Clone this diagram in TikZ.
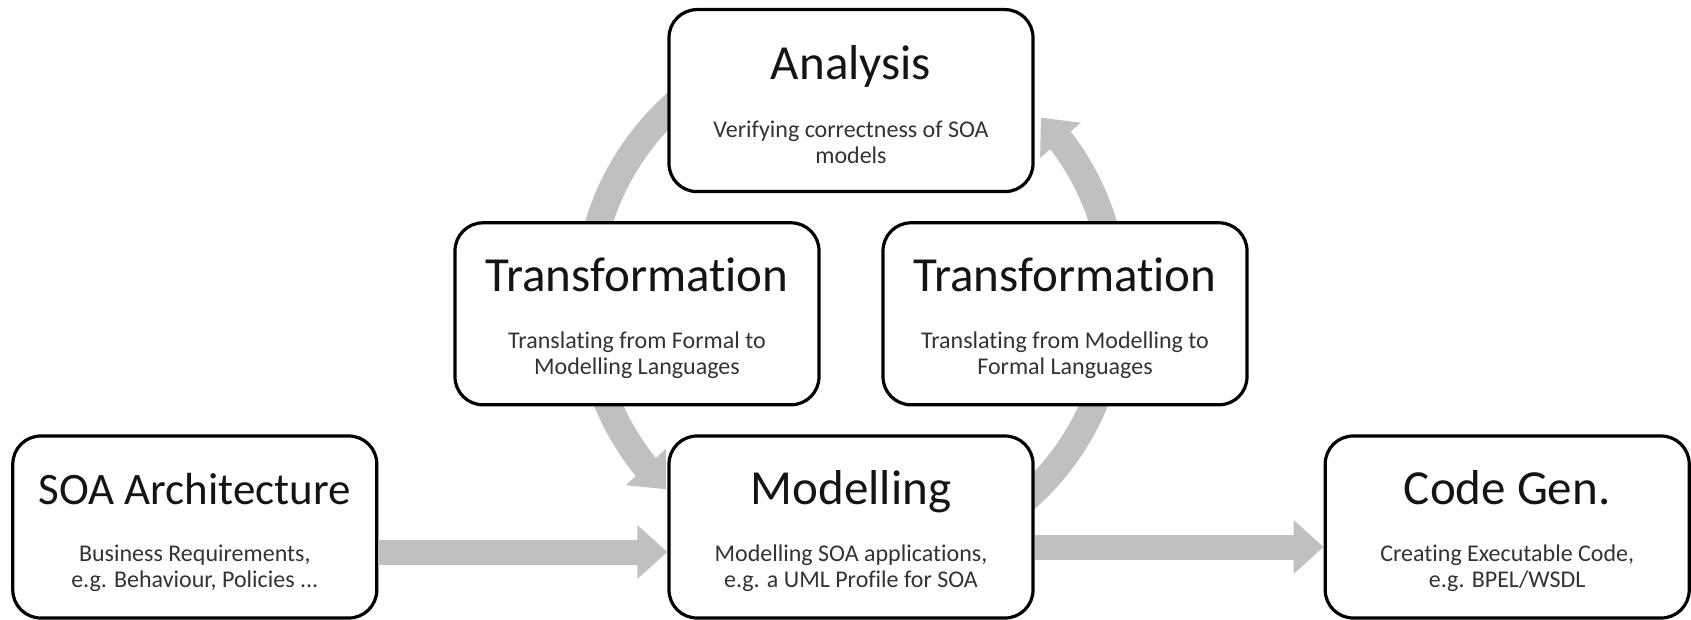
\documentclass[tikz,border=0pt]{standalone}
\usepackage{fontspec}
\setmainfont{Carlito}[Ligatures={NoCommon}]
\usepackage{xcolor}
\usetikzlibrary{arrows.meta, positioning, backgrounds, bending}
\definecolor{flowgray}{RGB}{192,192,192}
\newcommand{\stagetitle}[2][24.5]{{\fontsize{#1}{28}\selectfont\color{black!92}\rule{0pt}{21pt}#2}}
\tikzset{
  stage/.style={
    rectangle, rounded corners=14pt,
    minimum width=182pt, minimum height=91pt,
    draw, line width=1.6pt, fill=white,
    align=center, inner sep=0pt,
    font=\fontsize{12}{12.8}\selectfont, text=black!80
  },
  flow/.style={draw=flowgray, line width=12.5pt,
    -{Triangle[length=15pt, width=26pt, flex]}},
}

\begin{document}
\begin{tikzpicture}[node distance=14pt and 144.5pt]
  \useasboundingbox (0,0) rectangle (845.5pt,-310pt);

  % -- bottom row --------------------------------------------------------
  \node[stage] (model) at (425.5pt,-263.5pt)
    {\stagetitle{Modelling}\\[16pt]Modelling SOA applications,\\e.g. a UML Profile for SOA};
  \node[stage, left=of model] (soa)
    {\stagetitle[22.5]{SOA Architecture}\\[16pt]Business Requirements,\\e.g. Behaviour, Policies ...};
  \node[stage, right=of model] (codegen)
    {\stagetitle{Code Gen.}\\[16pt]Creating Executable Code,\\e.g. BPEL/WSDL};

  % -- transformations and analysis -------------------------------------
  \node[stage, above=of model, xshift=-107pt] (transl)
    {\stagetitle{Transformation}\\[16pt]Translating from Formal to\\Modelling Languages};
  \node[stage, above=of model, xshift=107pt] (transr)
    {\stagetitle{Transformation}\\[16pt]Translating from Modelling to\\Formal Languages};
  \node[stage, above=of transl, xshift=107pt] (analysis)
    {\stagetitle{Analysis}\\[16pt]Verifying correctness of SOA\\models};

  % -- straight flows ----------------------------------------------------
  \draw[flow] ([yshift=-12.5pt]soa.east) -- ([yshift=-12.5pt]model.west);
  \draw[flow] ([yshift=-10pt]model.east) -- ([yshift=-10pt]codegen.west);

  % -- round trip behind the boxes --------------------------------------
  \coordinate (hub) at ([yshift=113pt]model.center);
  \begin{scope}[on background layer]
    \draw[flow, line width=13.5pt] ([shift={(115:132pt)}]hub)
      arc[start angle=115, end angle=225.5, radius=132pt];
    \draw[flow, line width=13.5pt] ([shift={(-65:132pt)}]hub)
      arc[start angle=-65, end angle=44, radius=132pt];
  \end{scope}

\end{tikzpicture}
\end{document}
